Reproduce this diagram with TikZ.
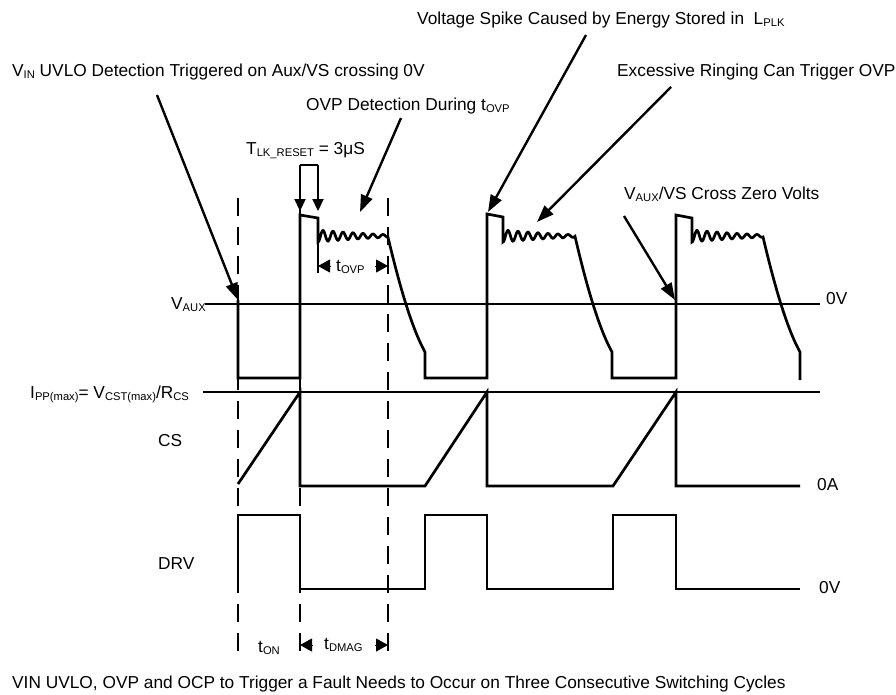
\documentclass[tikz,border=0pt]{standalone}
\usepackage{fontspec}
\setmainfont{Liberation Sans}
\usetikzlibrary{arrows.meta}
\newcommand\sbs[1]{\raisebox{-0.3ex}{\fontsize{11.2}{11.2}\selectfont #1}}
\begin{document}
\begin{tikzpicture}[x=1pt,y=-1pt,
  wave/.style={line width=2.7pt, line join=miter},
  axisline/.style={line width=2.2pt},
  guide/.style={line width=2.7pt, dash pattern=on 18pt off 11pt},
  ann/.style={line width=2.4pt, -{Triangle[length=17pt,width=12pt]}},
  bracketarrow/.style={line width=2.2pt, -{Triangle[length=12pt,width=11pt]}},
  dimtip/.style={line width=1pt, -{Triangle[length=12pt,width=13pt]}},
  lbl/.style={inner sep=0pt, anchor=base west, font=\fontsize{17.3}{20}\selectfont}
]
\useasboundingbox (0,0) rectangle (896,694);
\fill[white] (0,0) rectangle (896,694);

% guide lines
\draw[guide] (238,198) -- (238,653);
\draw[guide] (300,198) -- (300,653);
\draw[guide] (388,198) -- (388,653);

% axes
\draw[axisline] (205,304) -- (820,304);
\draw[axisline] (203,392) -- (820,392);

% VAUX waveform
\draw[wave] (238,300) -- (238,378) -- (300,378) -- (300,215) -- (318,218) -- (318,238)
  -- plot[variable=\t,domain=0:70,samples=140] ({318+\t},{236+6*(1-\t/130)*(1-\t/130)*cos(36*\t)})
  .. controls (397,275) and (410,325) .. (425,352) -- (425,378) -- (487,378)
  -- (487,214) -- (503,217) -- (503,238)
  -- plot[variable=\t,domain=0:72,samples=140] ({503+\t},{236+6*(1-\t/130)*(1-\t/130)*cos(36*\t)})
  .. controls (584,275) and (597,325) .. (612,352) -- (612,378) -- (676,378)
  -- (676,215) -- (692,218) -- (692,238)
  -- plot[variable=\t,domain=0:71,samples=140] ({692+\t},{236+6*(1-\t/130)*(1-\t/130)*cos(36*\t)})
  .. controls (772,275) and (785,325) .. (800,352) -- (800,380);

% CS waveform
\draw[wave] (238,484) -- (300,392) -- (300,486) -- (425,486) -- (487,392) -- (487,486)
  -- (613,486) -- (676,392) -- (676,486) -- (800,486);

% DRV waveform
\draw[wave] (238,589) -- (238,515) -- (300,515) -- (300,589) -- (425,589) -- (425,515)
  -- (487,515) -- (487,589) -- (613,589) -- (613,515) -- (676,515) -- (676,589) -- (800,589);

% labels
\node[lbl] (vin) at (12,76) {V\sbs{IN} UVLO Detection Triggered on Aux/VS crossing 0V};
\node[lbl] (ovpdet) at (306,110) {OVP Detection During t\sbs{OVP}};
\node[lbl] (spike) at (417,24) {Voltage Spike Caused by Energy Stored in\ \ L\sbs{PLK}};
\node[lbl] (ring) at (617,76) {Excessive Ringing Can Trigger OVP};
\node[lbl] (zero) at (624,199) {V\sbs{AUX}/VS Cross Zero Volts};
\node[lbl] (tlk) at (246,154) {T\sbs{LK\_RESET} = 3μS};
\node[lbl] (vaux) at (171,309) {V\sbs{AUX}};
\node[lbl] (ipp) at (30,398) {I\sbs{PP(max)}= V\sbs{CST(max)}/R\sbs{CS}};
\node[lbl] (cs) at (158,446) {CS};
\node[lbl] (drv) at (158,569) {DRV};
\node[lbl] (zv1) at (826,304) {0V};
\node[lbl] (za) at (817,490) {0A};
\node[lbl] (zv2) at (819,593) {0V};
\node[lbl] (ton) at (258,652) {t\sbs{ON}};
\node[lbl] (tdmag) at (324,649) {t\sbs{DMAG}};
\node[lbl] (tovp) at (336,271) {t\sbs{OVP}};
\node[lbl] (foot) at (12,688) {VIN UVLO, OVP and OCP to Trigger a Fault Needs to Occur on Three Consecutive Switching Cycles};

% annotation arrows
\coordinate (vinA) at (157,95);   \coordinate (vinB) at (238,300);
\coordinate (ovpA) at (401,118);  \coordinate (ovpB) at (360,212);
\coordinate (spkA) at (586,35);   \coordinate (spkB) at (488,212);
\coordinate (rngA) at (671,87);   \coordinate (rngB) at (537,222);
\coordinate (zerA) at (624,216);  \coordinate (zerB) at (675,300);
\draw[ann] (vinA) -- (vinB);
\draw[ann] (ovpA) -- (ovpB);
\draw[ann] (spkA) -- (spkB);
\draw[ann] (rngA) -- (rngB);
\draw[ann] (zerA) -- (zerB);

% T_LK_RESET bracket
\coordinate (bk1) at (300,165); \coordinate (bk2) at (318,165);
\coordinate (bk1t) at (300,211); \coordinate (bk2t) at (318,211);
\draw[line width=2.2pt] (bk1) -- (bk2);
\draw[bracketarrow] (bk1) -- (bk1t);
\draw[bracketarrow] (bk2) -- (bk2t);

% tOVP dimension
\draw[line width=2.2pt] (318,238) -- (318,273);
\coordinate (ovpL) at (318,266); \coordinate (ovpLb) at (331,266);
\coordinate (ovpR) at (388,266); \coordinate (ovpRb) at (375,266);
\draw[dimtip] (ovpLb) -- (ovpL);
\draw[dimtip] (ovpRb) -- (ovpR);

% tDMAG dimension
\coordinate (dmL) at (300,645); \coordinate (dmLb) at (313,645);
\coordinate (dmR) at (388,645); \coordinate (dmRb) at (375,645);
\draw[dimtip] (dmLb) -- (dmL);
\draw[dimtip] (dmRb) -- (dmR);
\end{tikzpicture}
\end{document}
